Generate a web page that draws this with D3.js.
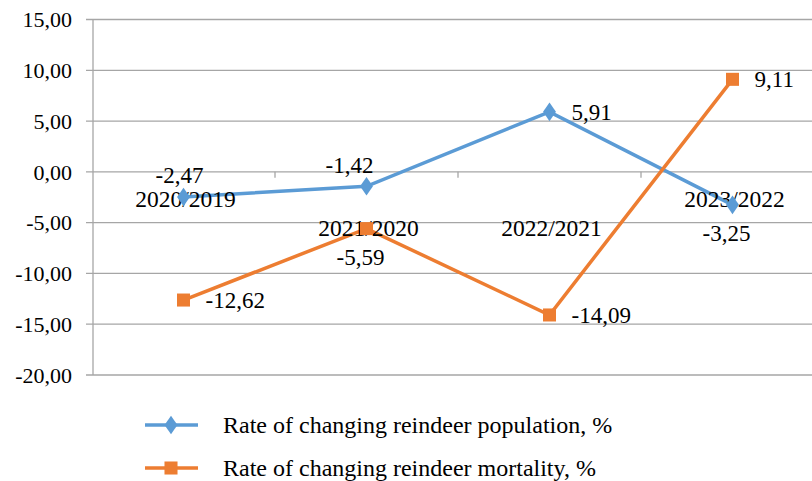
<!DOCTYPE html>
<html><head><meta charset="utf-8">
<script src="https://cdn.jsdelivr.net/npm/d3@7"></script>
<style>body{margin:0;background:#fff}svg{display:block}</style>
</head><body>
<svg id="c" width="812" height="481"></svg>
<script>
const categories = ["2020/2019", "2021/2020", "2022/2021", "2023/2022"];
const population = [-2.47, -1.42, 5.91, -3.25];
const mortality = [-12.62, -5.59, -14.09, 9.11];
const yTicks = [-20, -15, -10, -5, 0, 5, 10, 15];
const seriesNames = ["Rate of changing reindeer population, %", "Rate of changing reindeer mortality, %"];

const popLabelPos = ["above", "aboveLeft", "right", "below"];
const morLabelPos = ["right", "below", "right", "right"];
const catLabelRow = [0, 1, 1, 0];

const blue = "#5B9BD5", orange = "#ED7D31", grid = "#A6A6A6";
const font = "Liberation Serif";
const fs = 22;

const svg = d3.select("#c");
const x = d3.scaleBand().domain(categories).range([92, 824]);
const y = d3.scaleLinear().domain([-20, 15]).range([375, 19.5]);
const fmt = v => d3.format(".2f")(v).replace(".", ",").replace("\u2212", "-");
const cx = c => x(c) + x.bandwidth() / 2;

// gridlines
svg.append("g").selectAll("line").data(yTicks).join("line")
  .attr("x1", 86).attr("x2", 812)
  .attr("y1", d => y(d)).attr("y2", d => y(d))
  .attr("stroke", grid).attr("stroke-width", 1.3);
// y axis line
svg.append("line").attr("x1", 93).attr("x2", 93).attr("y1", y(15)).attr("y2", y(-20))
  .attr("stroke", grid).attr("stroke-width", 1.3);
// y tick labels
svg.append("g").selectAll("text").data(yTicks).join("text")
  .attr("x", 72).attr("y", d => y(d)).attr("dy", "0.35em")
  .attr("text-anchor", "end").attr("font-family", font).attr("font-size", fs)
  .attr("fill", "#000").text(fmt);
// category ticks on zero line
const bounds = categories.map(c => x(c)).concat([x.range()[1]]);
svg.append("g").selectAll("line").data(bounds.slice(1)).join("line")
  .attr("x1", d => d).attr("x2", d => d).attr("y1", y(0)).attr("y2", y(0) + 6)
  .attr("stroke", grid).attr("stroke-width", 1.3);

// lines
const line = d3.line().x((d, i) => cx(categories[i])).y(d => y(d));
svg.append("path").datum(population).attr("d", line).attr("fill", "none")
  .attr("stroke", blue).attr("stroke-width", 3.5);
svg.append("path").datum(mortality).attr("d", line).attr("fill", "none")
  .attr("stroke", orange).attr("stroke-width", 3.5);

// category labels
svg.append("g").selectAll("text").data(categories).join("text")
  .attr("x", d => cx(d) + 2).attr("y", (d, i) => y(0) + 35 + catLabelRow[i] * 29)
  .attr("text-anchor", "middle").attr("font-family", font).attr("font-size", 23.5)
  .attr("fill", "#000").text(d => d);

// markers
const diamond = d3.symbol().type(d3.symbolDiamond).size(100);
const square = d3.symbol().type(d3.symbolSquare).size(170);
svg.append("g").selectAll("path").data(population).join("path")
  .attr("d", diamond)
  .attr("transform", (d, i) => `translate(${cx(categories[i])},${y(d)}) scale(1.2,1)`)
  .attr("fill", blue);
svg.append("g").selectAll("path").data(mortality).join("path")
  .attr("d", square)
  .attr("transform", (d, i) => `translate(${cx(categories[i])},${y(d)})`)
  .attr("fill", orange);

// data labels
function place(pos) {
  switch (pos) {
    case "above": return { dx: -4, dy: -14, anchor: "middle" };
    case "aboveLeft": return { dx: -17, dy: -13, anchor: "middle" };
    case "right": return { dx: 22, dy: 8, anchor: "start" };
    case "below": return { dx: -6, dy: 36, anchor: "middle" };
  }
}
function labels(vals, posArr) {
  svg.append("g").selectAll("text").data(vals).join("text")
    .each(function (d, i) {
      const p = place(posArr[i]);
      d3.select(this).attr("x", cx(categories[i]) + p.dx).attr("y", y(d) + p.dy)
        .attr("text-anchor", p.anchor);
    })
    .attr("font-family", font).attr("font-size", 23).attr("fill", "#000")
    .text(fmt);
}
labels(population, popLabelPos);
labels(mortality, morLabelPos);

// legend
const leg = svg.append("g");
const rows = [{ name: seriesNames[0], color: blue, sym: diamond, sx: 1.2 },
              { name: seriesNames[1], color: orange, sym: square, sx: 1 }];
rows.forEach((r, i) => {
  const yy = 425 + i * 43;
  leg.append("line").attr("x1", 145).attr("x2", 198).attr("y1", yy).attr("y2", yy)
    .attr("stroke", r.color).attr("stroke-width", 3.5);
  leg.append("path").attr("d", r.sym).attr("transform", `translate(171,${yy}) scale(${r.sx},1)`)
    .attr("fill", r.color);
  leg.append("text").attr("x", 223).attr("y", yy).attr("dy", "0.33em")
    .attr("font-family", font).attr("font-size", 24).attr("fill", "#000").text(r.name);
});
</script>
</body></html>
